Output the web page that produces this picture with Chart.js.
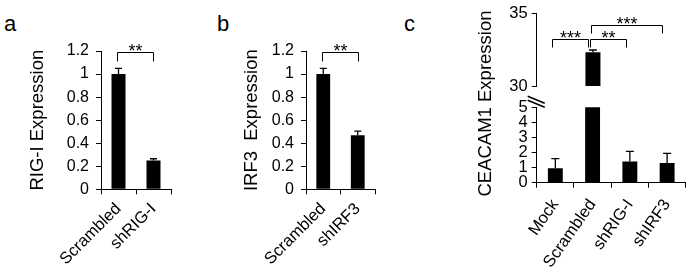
<!DOCTYPE html>
<html><head><meta charset="utf-8">
<script src="https://cdn.jsdelivr.net/npm/chart.js@4.4.0/dist/chart.umd.min.js"></script>
<style>
html,body{margin:0;padding:0;background:#fff;}
#wrap{position:relative;width:692px;height:270px;overflow:hidden;font-family:'Liberation Sans',Arial,sans-serif;}
canvas{position:absolute;}
.lbl{position:absolute;font-size:22px;line-height:22px;color:#000;}
</style></head><body>
<div id="wrap">
<div class="lbl" style="left:4px;top:13px">a</div>
<div class="lbl" style="left:217px;top:13px">b</div>
<div class="lbl" style="left:404px;top:13px">c</div>
<canvas id="ca" width="200" height="270" style="left:0;top:0"></canvas>
<canvas id="cb" width="190" height="270" style="left:210px;top:0"></canvas>
<canvas id="cl" width="272" height="270" style="left:420px;top:0"></canvas>
<canvas id="cu" width="272" height="100" style="left:420px;top:0"></canvas>
</div>
<script>
// ---- data ----
const catsA = ['Scrambled', 'shRIG-I'];
const valsA = [1.0, 0.25];
const errA = [0.05, 0.015];
const sigA = [[0, 1, 1.19, '**']];

const catsB = ['Scrambled', 'shIRF3'];
const valsB = [1.0, 0.47];
const errB = [0.05, 0.035];
const sigB = [[0, 1, 1.19, '**']];

const catsC = ['Mock', 'Scrambled', 'shRIG-I', 'shIRF3'];
const valsC = [0.95, 32.35, 1.4, 1.3];
const errC = [0.65, 0.15, 0.68, 0.65];
const sigC = [[0, 1, 33.28, '***'], [1, 2, 33.28, '**'], [1, 3, 34.24, '***']];

const ticksAB = [0, 0.2, 0.4, 0.6, 0.8, 1, 1.2];
const tickLabelsAB = ['0', '0.2', '0.4', '0.6', '0.8', '1', '1.2'];
const ticksCLow = [0, 1, 2, 3, 4, 5];
const tickLabelsCLow = ['0', '1', '2', '3', '4', '5'];
const ticksCHigh = [30, 35];
const tickLabelsCHigh = ['30', '35'];

const titleA = 'RIG-I Expression';
const titleB = 'IRF3  Expression';
const titleC = 'CEACAM1 Expression';

// ---- styling / drawing ----
const FAM = "'Liberation Sans', Arial, sans-serif";
Chart.defaults.font.family = FAM;
Chart.defaults.color = '#000';

const annot = {
  id: 'annot',
  afterDatasetsDraw(chart, args, opts) {
    const ctx = chart.ctx, xs = chart.scales.x, ys = chart.scales.y;
    const meta = chart.getDatasetMeta(0);
    const data = chart.data.datasets[0].data;
    ctx.save();
    ctx.strokeStyle = '#000';
    ctx.fillStyle = '#000';
    ctx.lineWidth = 1.3;
    const cap = opts.cap || 7;
    (opts.err || []).forEach((e, i) => {
      const v = data[i];
      if (v == null || e == null) return;
      const top = v + e;
      if (top > ys.max) return;
      const px = meta.data[i].x;
      const y0 = ys.getPixelForValue(Math.max(v, ys.min));
      const y1 = ys.getPixelForValue(top);
      ctx.beginPath();
      ctx.moveTo(px, y0); ctx.lineTo(px, y1);
      ctx.moveTo(px - cap / 2, y1); ctx.lineTo(px + cap / 2, y1);
      ctx.stroke();
    });
    ctx.lineWidth = 1;
    const fs = opts.starSize || 18;
    (opts.sig || []).forEach((s, k) => {
      const [a, b, val, label] = s;
      const off = (opts.sigOffsets || [])[k] || [0, 0];
      const xl = Math.round(xs.getPixelForValue(a) + off[0]) + 0.5;
      const xr = Math.round(xs.getPixelForValue(b) + off[1]) + 0.5;
      const yt = Math.round(ys.getPixelForValue(val)) + 0.5;
      const yb = yt + opts.legLen;
      ctx.beginPath();
      ctx.moveTo(xl, yb); ctx.lineTo(xl, yt); ctx.lineTo(xr, yt); ctx.lineTo(xr, yb);
      ctx.stroke();
      ctx.font = fs + 'px ' + FAM;
      ctx.textAlign = 'center';
      ctx.textBaseline = 'alphabetic';
      ctx.fillText(label, (xl + xr) / 2, yt - opts.starGap + 0.57 * fs);
    });
    ctx.restore();
  }
};

function yScale(opts) {
  return {
    min: opts.min, max: opts.max,
    afterBuildTicks: s => { s.ticks = opts.ticks.map(v => ({ value: v })); },
    afterFit: s => { s.width = opts.width; },
    ticks: { callback: (v, i) => opts.labels[i], font: { size: opts.fs }, color: '#000', padding: opts.pad, autoSkip: false },
    grid: { drawOnChartArea: false, drawTicks: true, tickLength: 5, color: '#000', lineWidth: 1 },
    border: { display: true, color: '#000', width: 1 },
    title: opts.title ? { display: true, text: opts.title, font: { size: 18.5 }, color: '#000', padding: { top: opts.titlePad, bottom: 0 } } : { display: false }
  };
}
function xScale(opts) {
  return {
    display: opts.display !== false,
    offset: true,
    afterFit: s => { if (opts.height != null) s.height = opts.height; },
    ticks: { font: { size: 16.5 }, color: '#000', maxRotation: opts.rot, minRotation: opts.rot, padding: opts.pad, autoSkip: false },
    grid: { offset: true, drawOnChartArea: false, drawTicks: true, tickLength: 5, color: '#000', lineWidth: 1 },
    border: { display: true, color: '#000', width: 1 }
  };
}
function barDataset(vals) {
  return { data: vals, backgroundColor: '#000', borderWidth: 0, barPercentage: 0.8, categoryPercentage: 0.5, clip: 0 };
}
const common = { responsive: false, animation: false, devicePixelRatio: 1 };

new Chart(document.getElementById('ca'), {
  type: 'bar',
  data: { labels: catsA, datasets: [barDataset(valsA)] },
  options: Object.assign({}, common, {
    layout: { padding: { left: 0, right: 29, top: 51, bottom: 0 } },
    scales: {
      x: xScale({ rot: 45, pad: 5, height: 80.7 }),
      y: yScale({ min: 0, max: 1.2, ticks: ticksAB, labels: tickLabelsAB, width: 101, fs: 16, pad: 7, title: titleA, titlePad: 27 })
    },
    plugins: { legend: { display: false }, tooltip: { enabled: false },
      annot: { err: errA, cap: 7, sig: sigA, sigOffsets: [[-1.5, -0.5]], legLen: 9, starGap: 6, starSize: 18 } }
  }),
  plugins: [annot]
});

new Chart(document.getElementById('cb'), {
  type: 'bar',
  data: { labels: catsB, datasets: [barDataset(valsB)] },
  options: Object.assign({}, common, {
    layout: { padding: { left: 0, right: 25, top: 51, bottom: 0 } },
    scales: {
      x: xScale({ rot: 45, pad: 5, height: 80.7 }),
      y: yScale({ min: 0, max: 1.2, ticks: ticksAB, labels: tickLabelsAB, width: 96, fs: 16, pad: 7, title: titleB, titlePad: 31 })
    },
    plugins: { legend: { display: false }, tooltip: { enabled: false },
      annot: { err: errB, cap: 7, sig: sigB, sigOffsets: [[-1.5, 0]], legLen: 9, starGap: 6, starSize: 18 } }
  }),
  plugins: [annot]
});

const cExtras = {
  id: 'cExtras',
  afterDraw(chart) {
    const ctx = chart.ctx, ca = chart.chartArea;
    ctx.save();
    ctx.font = '18.5px ' + FAM;
    ctx.fillStyle = '#000';
    ctx.textAlign = 'center';
    ctx.textBaseline = 'middle';
    ctx.translate(ca.left - 50.5, 103.5);
    ctx.rotate(-Math.PI / 2);
    ctx.fillText(titleC, 0, 0);
    ctx.restore();
    ctx.save();
    ctx.strokeStyle = '#000';
    ctx.lineWidth = 1.6;
    ctx.beginPath();
    ctx.moveTo(ca.left - 9, ca.top - 11); ctx.lineTo(ca.left + 8, ca.top - 4);
    ctx.moveTo(ca.left - 9, ca.top - 7); ctx.lineTo(ca.left + 8, ca.top);
    ctx.stroke();
    ctx.restore();
  }
};

new Chart(document.getElementById('cl'), {
  type: 'bar',
  data: { labels: catsC, datasets: [barDataset(valsC)] },
  options: Object.assign({}, common, {
    layout: { padding: { left: 0, right: 5.3, top: 107.3, bottom: 0 } },
    scales: {
      x: xScale({ rot: 55, pad: 8, height: 87.3 }),
      y: yScale({ min: 0, max: 5, ticks: ticksCLow, labels: tickLabelsCLow, width: 116.7, fs: 16.5, pad: 4 })
    },
    plugins: { legend: { display: false }, tooltip: { enabled: false },
      annot: { err: errC, cap: 8 } }
  }),
  plugins: [annot, cExtras]
});

new Chart(document.getElementById('cu'), {
  type: 'bar',
  data: { labels: catsC, datasets: [barDataset(valsC.map((v, i) => v > 30 ? v : null))] },
  options: Object.assign({}, common, {
    layout: { padding: { left: 0, right: 5.3, top: 13.3, bottom: 9.3 } },
    scales: {
      x: xScale({ display: false, rot: 55, pad: 8 }),
      y: yScale({ min: 30, max: 35, ticks: ticksCHigh, labels: tickLabelsCHigh, width: 116.7, fs: 16.5, pad: 4 })
    },
    plugins: { legend: { display: false }, tooltip: { enabled: false },
      annot: { err: errC.map((e, i) => valsC[i] > 30 ? e : null), cap: 8, sig: sigC,
        sigOffsets: [[-3.75, -5.25], [-2.65, -4.15], [-1.65, -6.25]], legLen: 8, starGap: 6, starSize: 18 } }
  }),
  plugins: [annot]
});
</script>
</body></html>
